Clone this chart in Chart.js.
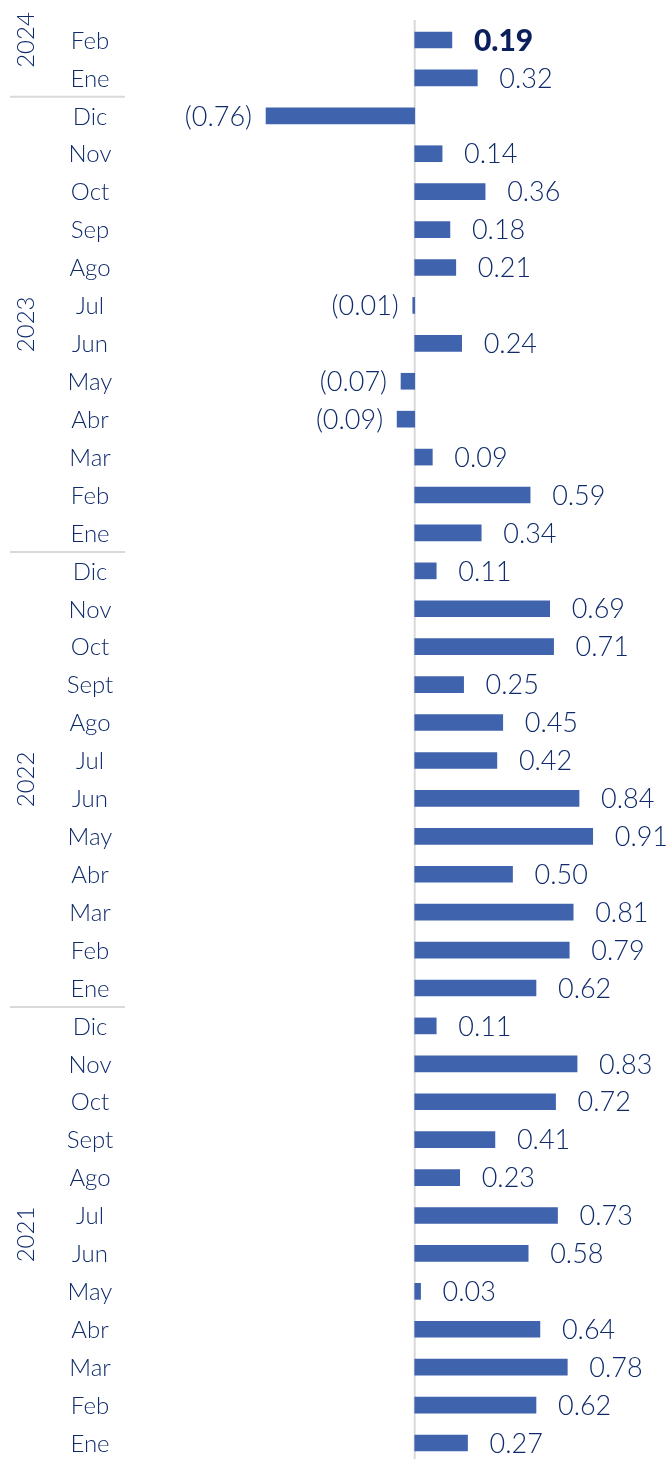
<!DOCTYPE html>
<html>
<head>
<meta charset="utf-8">
<script src="https://cdn.jsdelivr.net/npm/chart.js@4.4.1/dist/chart.umd.min.js"></script>
<style>
  html, body { margin: 0; padding: 0; background: #fff; overflow: hidden; }
  #wrap { position: relative; width: 670px; height: 1462px; }
</style>
</head>
<body>
<div id="wrap"><canvas id="g_var"></canvas></div>
<script>
// meses, de arriba hacia abajo
const months = ['Feb', 'Ene',
  'Dic', 'Nov', 'Oct', 'Sep', 'Ago', 'Jul', 'Jun', 'May', 'Abr', 'Mar', 'Feb', 'Ene',
  'Dic', 'Nov', 'Oct', 'Sept', 'Ago', 'Jul', 'Jun', 'May', 'Abr', 'Mar', 'Feb', 'Ene',
  'Dic', 'Nov', 'Oct', 'Sept', 'Ago', 'Jul', 'Jun', 'May', 'Abr', 'Mar', 'Feb', 'Ene'];
// variacion mensual (%)
const values = [0.19, 0.32,
  -0.76, 0.14, 0.36, 0.18, 0.21, -0.01, 0.24, -0.07, -0.09, 0.09, 0.59, 0.34,
  0.11, 0.69, 0.71, 0.25, 0.45, 0.42, 0.84, 0.91, 0.50, 0.81, 0.79, 0.62,
  0.11, 0.83, 0.72, 0.41, 0.23, 0.73, 0.58, 0.03, 0.64, 0.78, 0.62, 0.27];
// años y filas (primera, ultima) de cada grupo
const years = ['2024', '2023', '2022', '2021'];
const yearFirst = [0, 2, 14, 26];
const yearLast = [0, 13, 25, 37];
// separadores entre grupos (despues de la fila)
const separators = [1, 13, 25];

const navy = '#0f2b6b';
const fontName = 'Lato, "Open Sans", sans-serif';

function fmt(v) {
    let s = Math.abs(v).toFixed(2);
    return v < 0 ? '(' + s + ')' : s;
}

// dibuja etiquetas, años, separadores y eje cero
const decor = {
    id: 'decor',
    beforeDatasetsDraw(chart) {
        let ctx = chart.ctx;
        let x = chart.scales.x;
        let area = chart.chartArea;
        let x0 = x.getPixelForValue(0);
        ctx.save();
        ctx.strokeStyle = '#d9d9d9';
        ctx.lineWidth = 2;
        ctx.beginPath();
        ctx.moveTo(x0, 20);
        ctx.lineTo(x0, area.bottom);
        ctx.stroke();
        ctx.restore();
    },
    afterDatasetsDraw(chart) {
        let ctx = chart.ctx;
        let x = chart.scales.x;
        let y = chart.scales.y;
        ctx.save();
        ctx.textBaseline = 'middle';
        // meses
        ctx.fillStyle = navy;
        ctx.font = '300 24px ' + fontName;
        ctx.textAlign = 'center';
        for (let i = 0; i < months.length; i++) {
            ctx.fillText(months[i], 90, y.getPixelForValue(i) + 1);
        }
        // valores
        let meta = chart.getDatasetMeta(0);
        for (let i = 0; i < values.length; i++) {
            let v = values[i];
            let bar = meta.data[i];
            let py = bar.y + 1;
            if (i === 0) {
                ctx.font = '900 30px ' + fontName;
                ctx.fillStyle = '#0a1f5c';
            } else {
                ctx.font = '300 27px ' + fontName;
                ctx.fillStyle = navy;
            }
            if (v >= 0) {
                ctx.textAlign = 'left';
                ctx.fillText(fmt(v), Math.max(bar.x, x.getPixelForValue(0)) + 22, py);
            } else {
                ctx.textAlign = 'right';
                ctx.fillText(fmt(v), bar.x - 14, py);
            }
        }
        // separadores
        ctx.strokeStyle = '#d9d9d9';
        ctx.lineWidth = 2;
        for (let s of separators) {
            let py = (y.getPixelForValue(s) + y.getPixelForValue(s + 1)) / 2;
            ctx.beginPath();
            ctx.moveTo(10, py);
            ctx.lineTo(125, py);
            ctx.stroke();
        }
        // años
        ctx.fillStyle = navy;
        ctx.font = '300 24px ' + fontName;
        ctx.textAlign = 'center';
        for (let k = 0; k < years.length; k++) {
            let py = (y.getPixelForValue(yearFirst[k]) + y.getPixelForValue(yearLast[k])) / 2;
            ctx.save();
            ctx.translate(26, py);
            ctx.rotate(-Math.PI / 2);
            ctx.fillText(years[k], 0, 0);
            ctx.restore();
        }
        ctx.restore();
    }
};

let context = document.getElementById('g_var').getContext('2d');
let config = {
    type: 'bar',
    data: {
        labels: months,
        datasets: [{
            data: values,
            backgroundColor: '#4063ad',
            barThickness: 16
        }]
    },
    options: {
        indexAxis: 'y',
        responsive: true,
        maintainAspectRatio: false,
        animation: false,
        layout: { padding: { top: 21, bottom: 0, left: 0, right: 0 } },
        scales: {
            x: { display: false, min: -2.12, max: 1.305 },
            y: { display: false }
        },
        plugins: {
            legend: { display: false },
            tooltip: { enabled: false }
        }
    },
    plugins: [decor]
};
let gVar = new Chart(context, config);
</script>
</body>
</html>
